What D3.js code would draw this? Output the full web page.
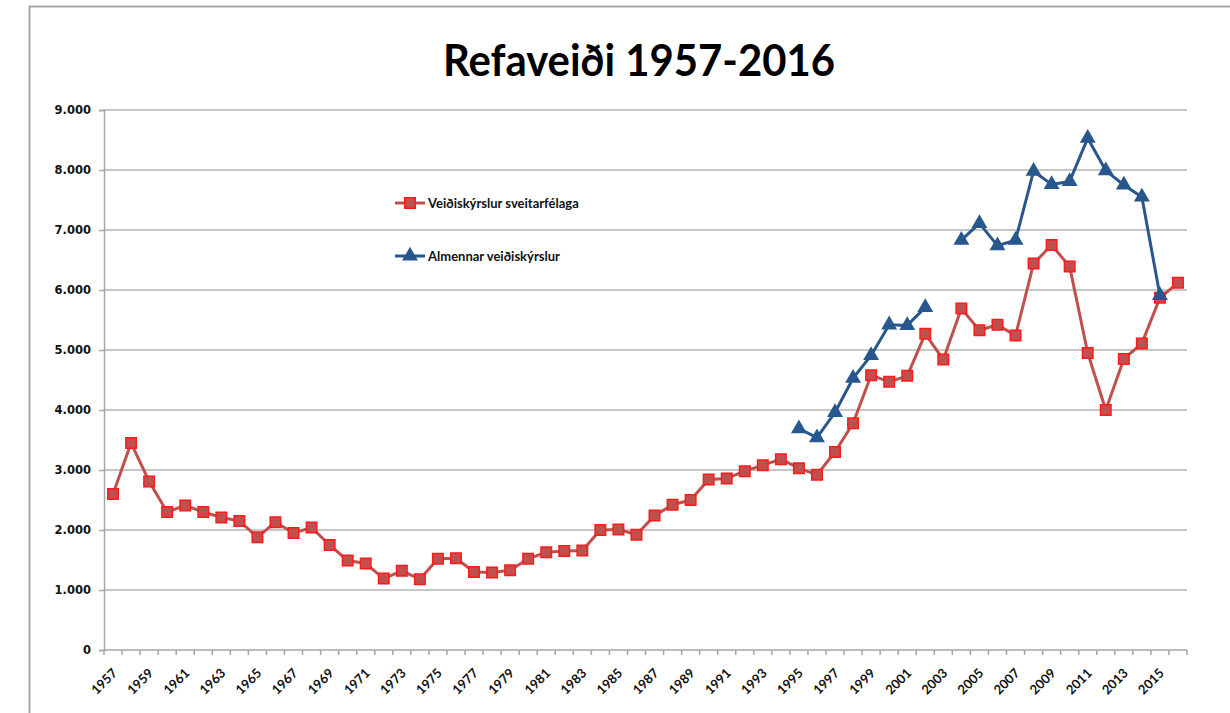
<!DOCTYPE html>
<html>
<head>
<meta charset="utf-8">
<script src="https://cdn.jsdelivr.net/npm/d3@7"></script>
<style>
  body { margin: 0; background: #fff; }
</style>
</head>
<body>
<div id="chart"></div>
<script>
// years 1957-2016
var years = [1957, 1958, 1959, 1960, 1961, 1962, 1963, 1964, 1965, 1966,
    1967, 1968, 1969, 1970, 1971, 1972, 1973, 1974, 1975, 1976,
    1977, 1978, 1979, 1980, 1981, 1982, 1983, 1984, 1985, 1986,
    1987, 1988, 1989, 1990, 1991, 1992, 1993, 1994, 1995, 1996,
    1997, 1998, 1999, 2000, 2001, 2002, 2003, 2004, 2005, 2006,
    2007, 2008, 2009, 2010, 2011, 2012, 2013, 2014, 2015, 2016];

// Veiðiskýrslur sveitarfélaga
var sveitarfelaga = [2600, 3450, 2810, 2300, 2410, 2300, 2210, 2150, 1880, 2130,
    1950, 2040, 1750, 1490, 1440, 1190, 1320, 1180, 1520, 1530,
    1300, 1290, 1330, 1520, 1630, 1650, 1660, 2000, 2010, 1920,
    2240, 2420, 2500, 2840, 2860, 2980, 3080, 3180, 3030, 2920,
    3300, 3780, 4580, 4470, 4570, 5270, 4840, 5690, 5330, 5420,
    5240, 6440, 6750, 6390, 4950, 4000, 4850, 5110, 5870, 6120];

// Almennar veiðiskýrslur
var almennar = [null, null, null, null, null, null, null, null, null, null,
    null, null, null, null, null, null, null, null, null, null,
    null, null, null, null, null, null, null, null, null, null,
    null, null, null, null, null, null, null, null, 3690, 3540,
    3960, 4530, 4910, 5420, 5410, 5710, null, 6830, 7110, 6740,
    6830, 7980, 7760, 7810, 8530, 7990, 7750, 7550, 5910, null];

var yTicks = [0, 1000, 2000, 3000, 4000, 5000, 6000, 7000, 8000, 9000];
var xLabels = years.filter(function (d, i) { return i % 2 === 0; });

var W = 1230, H = 713;
var margin = { top: 110, right: 43, bottom: 63, left: 104 },
    width = W - margin.left - margin.right,
    height = H - margin.top - margin.bottom;

var redLine = "#c0504d", redEdge = "#ff1a1a", blue = "#28578d";

var svg = d3.select("#chart").append("svg")
    .attr("width", W)
    .attr("height", H);

// outer frame (top and left edges visible)
svg.append("path")
    .attr("d", "M29.5," + H + " V6.5 H" + W)
    .attr("fill", "none")
    .attr("stroke", "#a6a6a6")
    .attr("stroke-width", 2);

// title
svg.append("text")
    .text("Refaveiði 1957-2016")
    .attr("x", 639)
    .attr("y", 76)
    .attr("text-anchor", "middle")
    .attr("textLength", 392)
    .attr("lengthAdjust", "spacingAndGlyphs")
    .style("font-family", "Lato, 'Open Sans', sans-serif")
    .style("font-weight", "bold")
    .style("font-size", "44px")
    .style("fill", "#000");

var g = svg.append("g")
    .attr("transform", "translate(" + margin.left + "," + margin.top + ")");

var x = d3.scaleBand().domain(years).range([0, width]);
var y = d3.scaleLinear().domain([0, 9000]).range([height, 0]);

var isl = d3.formatLocale({ decimal: ",", thousands: ".", grouping: [3], currency: ["", ""] });
var fmt = isl.format(",d");

// gridlines
g.append("g")
    .selectAll("line")
    .data(yTicks.filter(function (d) { return d > 0; }))
    .enter()
    .append("line")
    .attr("x1", 0)
    .attr("x2", width)
    .attr("y1", function (d) { return y(d); })
    .attr("y2", function (d) { return y(d); })
    .attr("stroke", "#b5b5b5")
    .attr("stroke-width", 1.5);

// y axis
var yAxis = g.append("g")
    .call(d3.axisLeft(y).tickValues(yTicks).tickFormat(fmt).tickSize(5).tickPadding(8));
yAxis.select(".domain").attr("stroke", "#a6a6a6").attr("stroke-width", 1.5);
yAxis.selectAll(".tick line").attr("stroke", "#a6a6a6").attr("stroke-width", 1.5);
yAxis.selectAll("text")
    .style("font-family", "'DejaVu Sans', Verdana, sans-serif")
    .style("font-weight", "bold")
    .style("font-size", "11.5px")
    .attr("fill", "#111");

// x axis: ticks on category boundaries
var xAxis = g.append("g").attr("transform", "translate(0," + height + ")");
xAxis.append("line")
    .attr("x1", 0).attr("x2", width)
    .attr("stroke", "#a6a6a6").attr("stroke-width", 1.5);
xAxis.selectAll(".bt")
    .data(years.concat([null]))
    .enter()
    .append("line")
    .attr("class", "bt")
    .attr("x1", function (d, i) { return i * x.step(); })
    .attr("x2", function (d, i) { return i * x.step(); })
    .attr("y1", 0)
    .attr("y2", 5)
    .attr("stroke", "#a6a6a6")
    .attr("stroke-width", 1.5);
xAxis.selectAll(".xl")
    .data(xLabels)
    .enter()
    .append("text")
    .attr("class", "xl")
    .text(function (d) { return d; })
    .attr("text-anchor", "end")
    .attr("transform", function (d) {
        return "translate(" + (x(d) + x.bandwidth() / 2 + 5) + ",24) rotate(-45)";
    })
    .style("font-family", "Lato, 'Open Sans', sans-serif")
    .style("font-weight", "bold")
    .style("font-size", "13px")
    .attr("fill", "#111");

var cx = function (i) { return x(years[i]) + x.bandwidth() / 2; };

// red series
var redData = sveitarfelaga.map(function (v, i) { return { i: i, v: v }; });
g.append("path")
    .datum(redData)
    .attr("fill", "none")
    .attr("stroke", redLine)
    .attr("stroke-width", 3)
    .attr("stroke-linejoin", "round")
    .attr("d", d3.line()
        .x(function (d) { return cx(d.i); })
        .y(function (d) { return y(d.v); }));

var square = d3.symbol().type(d3.symbolSquare).size(110);
g.selectAll(".sq")
    .data(redData)
    .enter()
    .append("path")
    .attr("class", "sq")
    .attr("d", square)
    .attr("transform", function (d) { return "translate(" + cx(d.i) + "," + y(d.v) + ")"; })
    .attr("fill", redLine)
    .attr("stroke", redEdge)
    .attr("stroke-width", 1.5);

// blue series
var blueData = almennar.map(function (v, i) { return { i: i, v: v }; });
g.append("path")
    .datum(blueData)
    .attr("fill", "none")
    .attr("stroke", blue)
    .attr("stroke-width", 3)
    .attr("stroke-linejoin", "round")
    .attr("d", d3.line()
        .defined(function (d) { return d.v !== null; })
        .x(function (d) { return cx(d.i); })
        .y(function (d) { return y(d.v); }));

var tri = d3.symbol().type(d3.symbolTriangle).size(110);
g.selectAll(".tr")
    .data(blueData.filter(function (d) { return d.v !== null; }))
    .enter()
    .append("path")
    .attr("class", "tr")
    .attr("d", tri)
    .attr("transform", function (d) { return "translate(" + cx(d.i) + "," + y(d.v) + ")"; })
    .attr("fill", blue);

// legend
var legend = [
    { name: "Veiðiskýrslur sveitarfélaga", y: 203, color: redLine, shape: "sq" },
    { name: "Almennar veiðiskýrslur", y: 256, color: blue, shape: "tr" }
];
var lg = svg.append("g").selectAll("g")
    .data(legend)
    .enter()
    .append("g")
    .attr("transform", function (d) { return "translate(395," + d.y + ")"; });
lg.append("line")
    .attr("x1", 0).attr("x2", 30)
    .attr("stroke", function (d) { return d.color; })
    .attr("stroke-width", 3);
lg.append("path")
    .attr("d", function (d) { return d.shape === "sq" ? square() : tri(); })
    .attr("transform", "translate(15,0)")
    .attr("fill", function (d) { return d.color; })
    .attr("stroke", function (d) { return d.shape === "sq" ? redEdge : "none"; })
    .attr("stroke-width", 1.5);
lg.append("text")
    .text(function (d) { return d.name; })
    .attr("x", 33)
    .attr("dy", "0.35em")
    .style("font-family", "Lato, 'Open Sans', sans-serif")
    .style("font-weight", "bold")
    .style("font-size", "13px")
    .attr("fill", "#111");
</script>
</body>
</html>
